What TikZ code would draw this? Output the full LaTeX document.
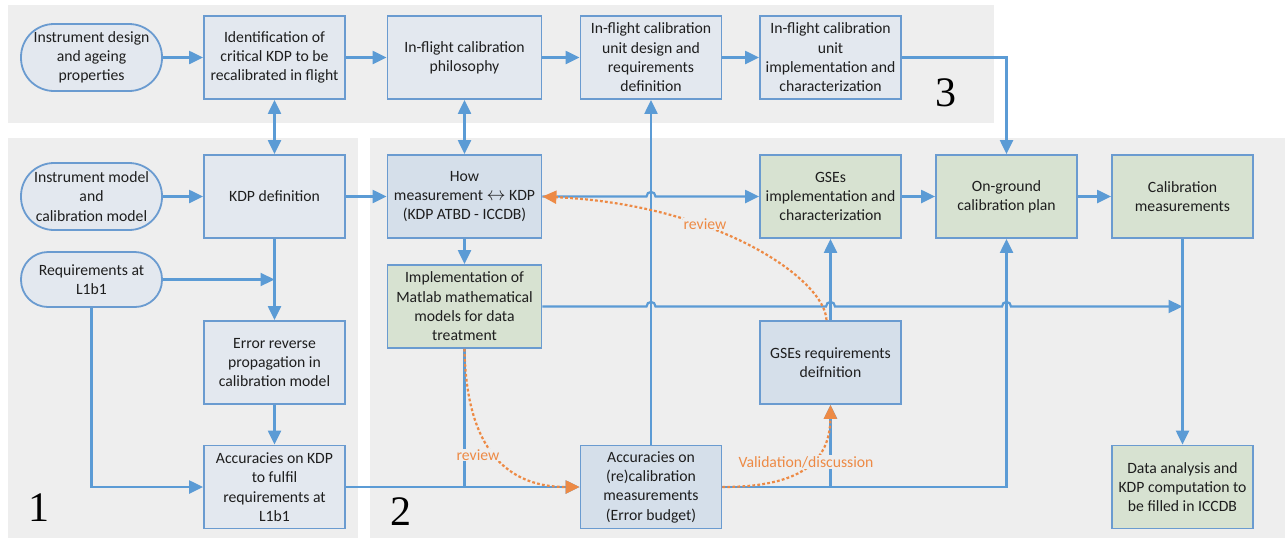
\documentclass[tikz,border=0pt]{standalone}
\usepackage{graphicx}
\usepackage{fontspec}
\setmainfont{Carlito}
\newfontfamily\numfont{Liberation Serif}
\usetikzlibrary{arrows.meta,calc}

\definecolor{panel}{HTML}{EEEEEE}
\definecolor{edge}{HTML}{6A9BD0}
\definecolor{wire}{HTML}{5B9BD5}
\definecolor{plainfill}{HTML}{E3E8EF}
\definecolor{bluefill}{HTML}{D5DFEA}
\definecolor{greenfill}{HTML}{D7E2D1}
\definecolor{note}{HTML}{ED8A45}
\definecolor{ink}{HTML}{1E1E1E}

\newcommand{\twoway}{\resizebox{19pt}{!}{$\leftrightarrow$}}

\begin{document}
\begin{tikzpicture}[x=1pt, y=-1pt,
  txt/.style={font=\fontsize{15.7}{19.3}\selectfont},
  box/.style={txt, draw=edge, line width=1.8pt, minimum width=141pt,
    minimum height=83pt, align=center, inner sep=0pt, text=ink},
  plain/.style={box, fill=plainfill},
  bluebox/.style={box, fill=bluefill},
  greenbox/.style={box, fill=greenfill},
  term/.style={box, fill=plainfill, minimum height=67pt, rounded corners=33pt},
  tip/.tip={Triangle[length=14pt,width=13pt]},
  wire/.style={draw=wire, line width=2.2pt},
  arr/.style={wire, -tip},
  dbl/.style={wire, tip-tip},
  orarr/.style={draw=note, line width=2.2pt, dash pattern=on 2.8pt off 2.2pt, -tip},
  lab/.style={txt, text=note, fill=panel, inner sep=1pt},
  num/.style={font=\numfont\fontsize{42}{42}\selectfont, text=black, inner sep=0pt}]

\useasboundingbox (0,0) rectangle (1287,539);

% grouping panels
\fill[panel] (8,5) rectangle (994,122.7);
\fill[panel] (8,137.5) rectangle (358,538);
\fill[panel] (369.5,137.5) rectangle (1285,538);

\node[num] (p1) at (39,508) {1};
\node[num] (p2) at (401,512) {2};
\node[num] (p3) at (945.5,93) {3};

% in-flight chain
\node[term]  (n1) at (91.5,57.5)  {Instrument design\\and ageing\\properties};
\node[plain] (n2) at (274.5,57.5) {Identification of\\critical KDP to be\\recalibrated in flight};
\node[plain, minimum width=154pt] (n3) at (464.5,57.5) {In-flight calibration\\philosophy};
\node[plain] (n4) at (651,57.5)   {In-flight calibration\\unit design and\\requirements\\definition};
\node[plain] (n5) at (830.5,57.5) {In-flight calibration\\unit\\implementation and\\characterization};

% second row
\node[term]  (IM) at (91.5,196.5)  {Instrument model\\and\\calibration model};
\node[plain] (KD) at (274.5,196.5) {KDP definition};
\node[bluebox, minimum width=154pt] (How) at (464.5,196.5) {How\\measurement \twoway{} KDP\\(KDP ATBD - ICCDB)};
\node[greenbox] (GI) at (830.5,196.5)  {GSEs\\implementation and\\characterization};
\node[greenbox] (OG) at (1006.5,196.5) {On-ground\\calibration plan};
\node[greenbox] (CM) at (1182.5,196.5) {Calibration\\measurements};

% third row
\node[term, minimum height=55pt, rounded corners=27pt] (Req) at (91.5,279.5) {Requirements at\\L1b1};
\node[greenbox, minimum width=154pt] (Mat) at (464.5,306.5) {Implementation of\\Matlab mathematical\\models for data\\treatment};
\node[plain]   (Err) at (274.5,362.5) {Error reverse\\propagation in\\calibration model};
\node[bluebox] (GR)  at (830.5,362.5) {GSEs requirements\\deifnition};

% bottom row
\node[plain]     (AK) at (274.5,487)  {Accuracies on KDP\\to fulfil\\requirements at\\L1b1};
\node[bluebox]   (AR) at (651,487)    {Accuracies on\\(re)calibration\\measurements\\(Error budget)};
\node[greenbox]  (DA) at (1182.5,487) {Data analysis and\\KDP computation to\\be filled in ICCDB};

% crossing points where horizontal wires hop over vertical ones
\coordinate (hA) at (AR.north |- How.east);
\coordinate (hB) at (AR.north |- Mat.east);
\coordinate (hC) at (GR.north |- Mat.east);
\coordinate (hD) at (OG.south |- Mat.east);

% top chain
\draw[arr] (n1.east) -- (n2.west);
\draw[arr] (n2.east) -- (n3.west);
\draw[arr] (n3.east) -- (n4.west);
\draw[arr] (n4.east) -- (n5.west);
\draw[arr] (n5.east) -- (n5.east -| OG.north) -- (OG.north);
\draw[dbl] (KD.north) -- (n2.south);
\draw[dbl] (How.north) -- (n3.south);

% panel 1 wiring
\draw[arr] (IM.east) -- (KD.west);
\draw[arr] (KD.south) -- (Err.north);
\draw[arr] (Req.east) -- (Req.east -| KD.south);
\draw[arr] (Req.south) |- (AK.west);
\draw[arr] (Err.south) -- (AK.north);

% panel 2 wiring
\draw[arr] (KD.east) -- (How.west);
\draw[arr] (How.south) -- (Mat.north);
\draw[arr] (How.east) -- ($(hA)+(-4.5,0)$)
  .. controls ($(hA)+(-4.5,-6)$) and ($(hA)+(4.5,-6)$) .. ($(hA)+(4.5,0)$)
  -- (GI.west);
\draw[arr] (Mat.east) -- ($(hB)+(-4.5,0)$)
  .. controls ($(hB)+(-4.5,-6)$) and ($(hB)+(4.5,-6)$) .. ($(hB)+(4.5,0)$)
  -- ($(hC)+(-4.5,0)$)
  .. controls ($(hC)+(-4.5,-6)$) and ($(hC)+(4.5,-6)$) .. ($(hC)+(4.5,0)$)
  -- ($(hD)+(-4.5,0)$)
  .. controls ($(hD)+(-4.5,-6)$) and ($(hD)+(4.5,-6)$) .. ($(hD)+(4.5,0)$)
  -- (Mat.east -| CM.south);
\draw[arr] (GI.east) -- (OG.west);
\draw[arr] (OG.east) -- (CM.west);
\draw[arr] (CM.south) -- (DA.north);
\draw[arr] (GR.north) -- (GI.south);
\draw[arr] (AR.north) -- (n4.south);
\draw[wire] (Mat.south) -- (Mat.south |- AK.east);
\draw[arr] (AK.east) -- (AR.west);
\draw[arr] (AR.east) -| (OG.south);
\draw[arr] (AR.east -| GR.south) -- (GR.south);

% review loops
\draw[orarr] ($(GR.north)+(-4,0)$) .. controls (825,280) and (720,205) .. (How.east);
\draw[orarr] (Mat.south) .. controls (466,440) and (500,487) .. (AR.west);
\draw[orarr] (AR.east) .. controls (800,487) and (830,462) .. (GR.south);

\node[lab] (l1) at (705,224) {review};
\node[lab] (l2) at (478,455) {review};
\node[lab] (l3) at (806,462) {Validation/discussion};
\end{tikzpicture}
\end{document}
